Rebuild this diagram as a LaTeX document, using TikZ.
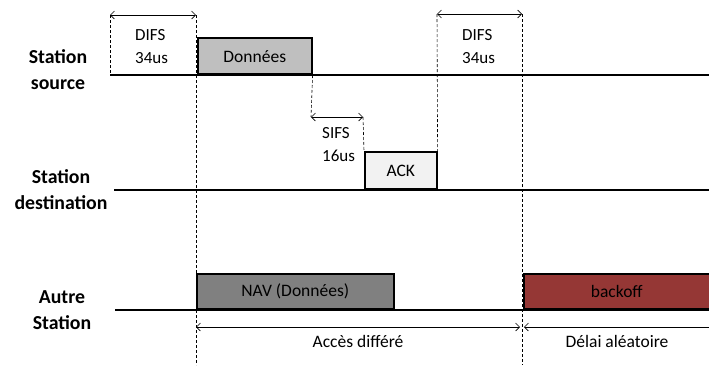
\documentclass[tikz,border=0pt]{standalone}
\usepackage{fontspec}
\setmainfont{Carlito}
\usetikzlibrary{arrows.meta,positioning}

\definecolor{datagray}{RGB}{191,191,191}
\definecolor{ackgray}{RGB}{242,242,242}
\definecolor{navgray}{RGB}{128,128,128}
\definecolor{backoffred}{RGB}{149,55,53}

\begin{document}
\begin{tikzpicture}[
    x=1pt, y=-1pt,
    font=\fontsize{17.5}{21}\selectfont,
    >={Straight Barb[length=4pt,width=8pt]},
    % --- styles ---
    tline/.style  = {line width=1.6pt},
    vdash/.style  = {line width=0.6pt, dash pattern=on 3pt off 2pt},
    dim/.style    = {<->, line width=0.6pt},
    frame/.style  = {draw, line width=1.6pt, anchor=south west,
                     inner sep=0pt},
    durlbl/.style = {align=left, anchor=west, inner sep=0pt,
                     font=\fontsize{17}{23}\selectfont},
    stalbl/.style = {align=center, inner sep=0pt,
                     font=\fontsize{19.8}{26}\selectfont\bfseries},
]

\useasboundingbox (0,0) rectangle (709,365);

%============ STATIONS ============
\node (srclbl) [stalbl] at (58,70)  {Station\\source};
\node (dstlbl) [stalbl] at (61,190) {Station\\destination};
\node (othlbl) [stalbl] at (62,310) {Autre\\Station};

\coordinate (src0) at (110,75);  \coordinate (src1) at (709,75);
\coordinate (dst0) at (114,190); \coordinate (dst1) at (709,190);
\coordinate (oth0) at (115,310); \coordinate (oth1) at (709,310);

\foreach \a/\b in {src0/src1, dst0/dst1, oth0/oth1}
  \draw[tline] (\a) -- (\b);

%============ FRAMES ============
\node (data) [frame, fill=datagray, minimum width=114pt,
              minimum height=36pt] at (197,75) {Données};
\node (ack) [frame, fill=ackgray, minimum width=72pt,
             minimum height=37pt] at (364,190) {ACK};
\node (nav) [frame, fill=navgray, minimum width=197pt,
             minimum height=35pt] at (196,310) {NAV (Données)};
\node (backoff) [frame, fill=backoffred, minimum width=186pt,
                 minimum height=35pt] at (523,310) {backoff};

%============ INTERVALS ============
\coordinate (difsA) at (110,15);  \coordinate (difsB) at (196,15);
\coordinate (sifsA) at (311,117); \coordinate (sifsB) at (363,117);
\coordinate (difsC) at (437,14);  \coordinate (difsD) at (522,14);
\coordinate (botA)  at (196,365); \coordinate (botB)  at (522,365);

% dashed markers
\draw[vdash] (difsA) -- (src0);
\draw[vdash] (difsB) -- (botA);
\draw[vdash] (data.south east) -- (sifsA);
\draw[vdash] (sifsB) -- (ack.north west);
\draw[vdash] (difsC) -- (ack.north east);
\draw[vdash] (difsD) -- (botB);

\foreach \a/\b in {difsA/difsB, sifsA/sifsB, difsC/difsD}
  \draw[dim] (\a) -- (\b);

\node (difs1) [durlbl] at (135,46.5) {DIFS\\34us};
\node (sifs)  [durlbl] at (322,145)  {SIFS\\16us};
\node (difs2) [durlbl] at (462,46.5) {DIFS\\34us};

%============ ACCESS PHASES ============
\coordinate (defA) at (196,327); \coordinate (defB) at (520,327);
\coordinate (rndA) at (524,327); \coordinate (rndB) at (709,327);

\draw[dim] (defA) -- (defB);
\draw[<-, line width=0.6pt] (rndA) -- (rndB);

\node (deferred) at (358,341) {Accès différé};
\node (random)   at (617,341) {Délai aléatoire};

\end{tikzpicture}
\end{document}
